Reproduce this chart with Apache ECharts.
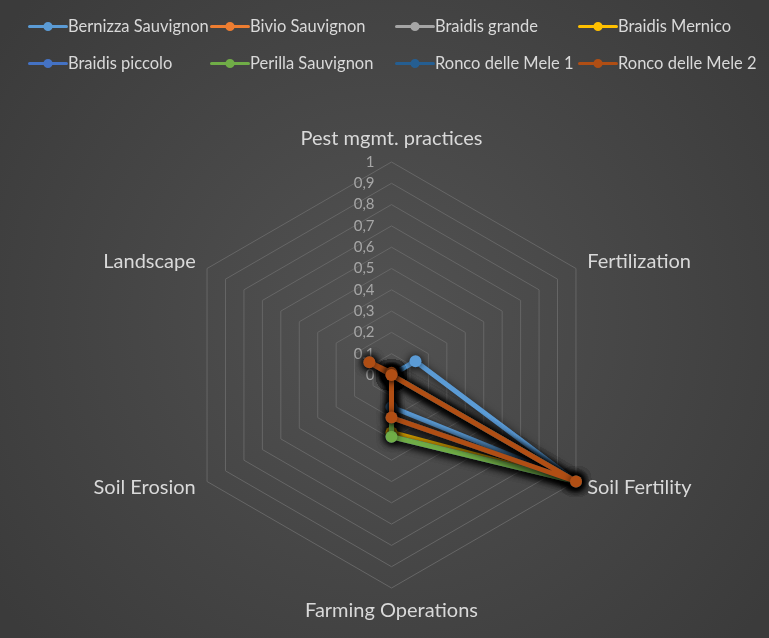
<!DOCTYPE html>
<html>
<head>
<meta charset="utf-8">
<script src="https://cdn.jsdelivr.net/npm/echarts@6/dist/echarts.min.js"></script>
<style>html,body{margin:0;padding:0;background:#464646}#c{width:769px;height:638px}</style>
</head>
<body>
<div id="c"></div>
<script>
// Indicators in ECharts drawing order (counter-clockwise from top)
var indicators = ['Pest mgmt. practices', 'Landscape', 'Soil Erosion', 'Farming Operations', 'Soil Fertility', 'Fertilization'];
var seriesNames = ['Bernizza Sauvignon', 'Bivio Sauvignon', 'Braidis grande', 'Braidis Mernico',
                   'Braidis piccolo', 'Perilla Sauvignon', 'Ronco delle Mele 1', 'Ronco delle Mele 2'];
// values in indicator order above
var bernizza = [0, 0, 0, 0.15, 1, 0.13];
var bivio    = [0, 0.12, 0, 0.2, 1, 0];
var grande   = [0, 0, 0, 0.29, 1, 0];
var mernico  = [0, 0, 0, 0.27, 1, 0];
var piccolo  = [0, 0, 0, 0.29, 1, 0];
var perilla  = [0, 0, 0, 0.29, 1, 0];
var ronco1   = [0, 0.12, 0, 0.2, 1, 0];
var ronco2   = [0.01, 0.12, 0, 0.2, 1, 0];
var tickLabels = ['0', '0,1', '0,2', '0,3', '0,4', '0,5', '0,6', '0,7', '0,8', '0,9', '1'];

var values = [bernizza, bivio, grande, mernico, piccolo, perilla, ronco1, ronco2];
var colors = ['#5B9BD5', '#ED7D31', '#A5A5A5', '#FFC000', '#4472C4', '#70AD47', '#255E91', '#B04E14'];

var chart = echarts.init(document.getElementById('c'), null, {renderer: 'canvas'});
var font = 'Lato, "Open Sans", sans-serif';
var legendIcon = 'path://M2,3.5 L38,3.5 A1.5,1.5 0 0 1 38,6.5 L2,6.5 A1.5,1.5 0 0 1 2,3.5 Z M24.5,5 A4.5,4.5 0 1 1 15.5,5 A4.5,4.5 0 1 1 24.5,5 Z';
var colX = [28, 210, 395, 578];
var rowY = [18, 55];

var legends = seriesNames.map(function (n, i) {
  return {
    data: [n], left: colX[i % 4], top: rowY[Math.floor(i / 4)], padding: 0,
    icon: legendIcon, itemWidth: 40, itemHeight: 10, itemGap: 0,
    selectedMode: false,
    textStyle: {color: '#d9d9d9', fontSize: 16.5, fontFamily: font, padding: [0, 0, 0, -5]}
  };
});

var series = seriesNames.map(function (n, i) {
  return {
    type: 'radar', name: n, z: 2 + i,
    symbol: 'circle', symbolSize: 12,
    lineStyle: {width: 5, color: colors[i], shadowBlur: 8, shadowColor: 'rgba(0,0,0,0.75)', shadowOffsetX: 1, shadowOffsetY: 2},
    itemStyle: {color: colors[i], shadowBlur: 8, shadowColor: 'rgba(0,0,0,0.75)'},
    data: [{value: values[i], name: n}]
  };
});

chart.setOption({
  animation: false,
  backgroundColor: {type: 'radial', x: 0.5, y: 0.5, r: 0.75,
    colorStops: [{offset: 0, color: '#525252'}, {offset: 1, color: '#3b3b3b'}]},
  color: colors,
  legend: legends,
  radar: {
    center: [391.5, 375], radius: 213, startAngle: 90,
    splitNumber: 10, shape: 'polygon',
    axisName: {color: '#d9d9d9', fontSize: 20, fontFamily: font},
    nameGap: 13,
    splitLine: {lineStyle: {color: '#666666', width: 1}},
    splitArea: {show: false},
    axisLine: {show: false},
    axisTick: {show: false},
    axisLabel: {show: false},
    indicator: indicators.map(function (name, i) {
      var o = {name: name, min: 0, max: 1};
      if (i === 0) {
        o.axisLabel = {show: true, color: '#a6a6a6', fontSize: 15, fontFamily: font, margin: 17,
          formatter: function (v) { return tickLabels[Math.round(v * 10)]; }};
      }
      return o;
    })
  },
  series: series
});
</script>
</body>
</html>
